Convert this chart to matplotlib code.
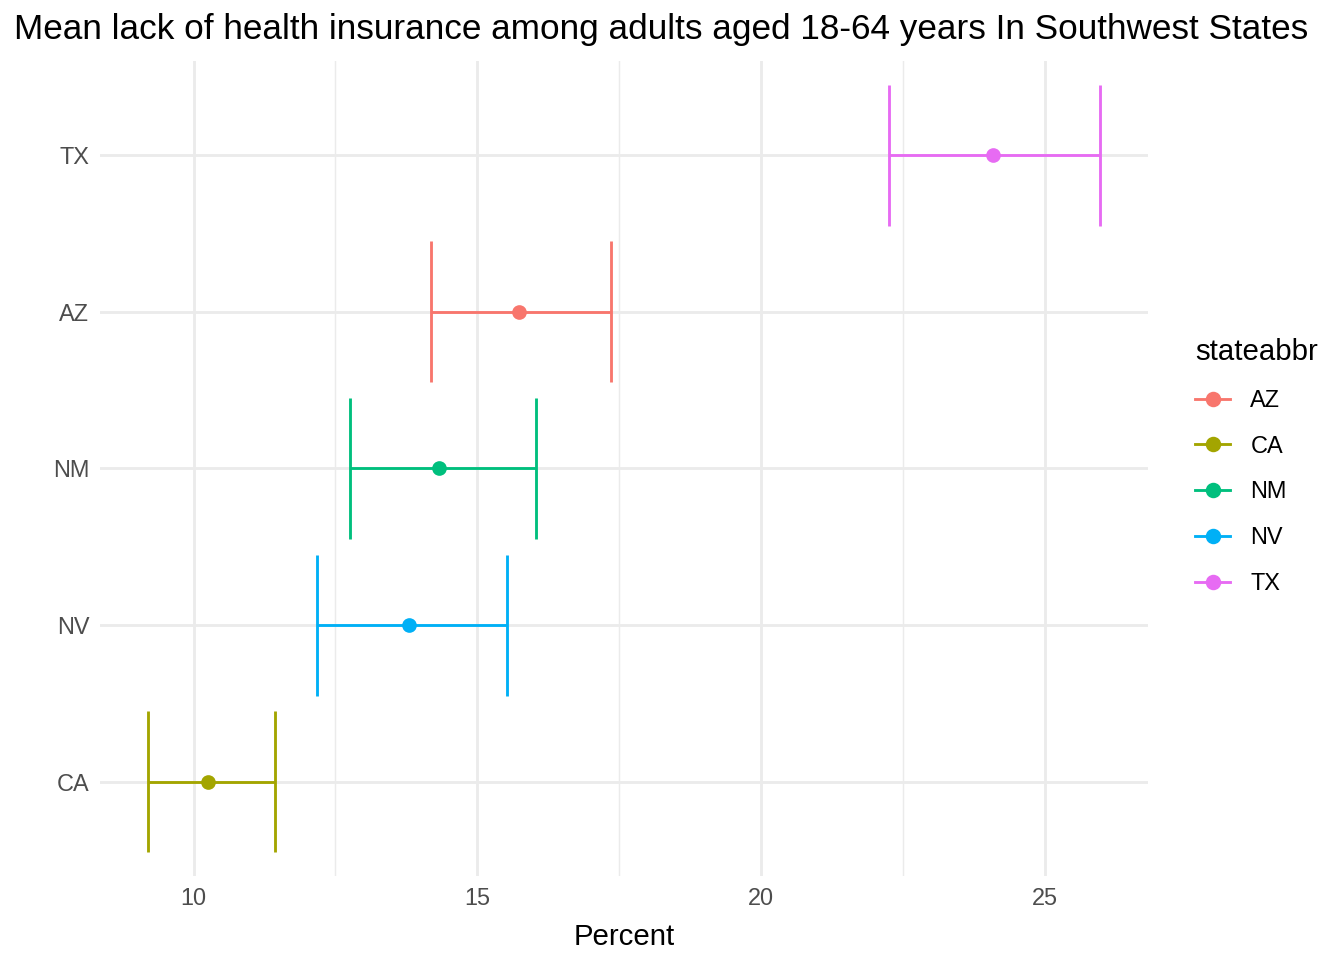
import numpy as np
import matplotlib
matplotlib.use("Agg")
import matplotlib.pyplot as plt
from matplotlib.lines import Line2D

plt.rcParams['font.family'] = ['Liberation Sans', 'DejaVu Sans']

# data
states = ["CA", "NV", "NM", "AZ", "TX"]          # bottom to top
means = [10.26, 13.79, 14.33, 15.74, 24.08]
lower = [9.19, 12.17, 12.75, 14.18, 22.25]
upper = [11.43, 15.53, 16.04, 17.35, 25.98]

legend_order = ["AZ", "CA", "NM", "NV", "TX"]
colours = {"AZ": "#F8766D", "CA": "#A3A500", "NM": "#00BF7D",
           "NV": "#00B0F6", "TX": "#E76BF3"}

cap_half = 0.45


def main():
    fig = plt.figure(figsize=(7, 5), dpi=192)
    ax = fig.add_axes([100 / 1344, 1 - 876 / 960, 1048 / 1344, 815 / 960])

    ypos = np.arange(1, len(states) + 1)
    for y, s, m, lo, hi in zip(ypos, states, means, lower, upper):
        c = colours[s]
        ax.hlines(y, lo, hi, color=c, lw=1.07, zorder=3)
        ax.vlines([lo, hi], y - cap_half, y + cap_half, color=c, lw=1.07, zorder=3)
        ax.plot(m, y, 'o', color=c, ms=5.5, mec='none', zorder=4)

    # axis limits (ggplot-like expansion)
    xmin, xmax = min(lower), max(upper)
    pad = (xmax - xmin) * 0.05
    ax.set_xlim(xmin - pad, xmax + pad)
    ax.set_ylim(0.4, len(states) + 0.6)

    ax.set_xticks([10, 15, 20, 25])
    ax.set_xticks([12.5, 17.5, 22.5], minor=True)
    ax.set_yticks(ypos)
    ax.set_yticklabels(states)
    ax.tick_params(axis='both', which='both', length=0, labelsize=8.8,
                   labelcolor='#4D4D4D', pad=4)
    ax.grid(True, which='major', color='#EBEBEB', lw=1.07, zorder=0)
    ax.grid(True, which='minor', axis='x', color='#EBEBEB', lw=0.53, zorder=0)
    ax.set_axisbelow(True)
    for sp in ax.spines.values():
        sp.set_visible(False)

    ax.set_xlabel('Percent', fontsize=11, labelpad=5)

    fig.text(661 / 1344, 1 - 30 / 960,
             'Mean lack of health insurance among adults aged 18-64 years In Southwest States',
             ha='center', va='center', fontsize=13.2)

    handles = [Line2D([0], [0], color=colours[s], lw=1.07, marker='o', ms=5.8,
                      mec='none') for s in legend_order]
    fig.legend(handles, legend_order, title='stateabbr',
               loc='upper left', bbox_to_anchor=(1174 / 1344, 1 - 317 / 960),
               frameon=False, fontsize=8.8, title_fontsize=11,
               handlelength=1.5, labelspacing=0.97, handletextpad=0.85,
               alignment='left')

    fig.savefig('out.png', dpi=192)


if __name__ == "__main__":
    main()
